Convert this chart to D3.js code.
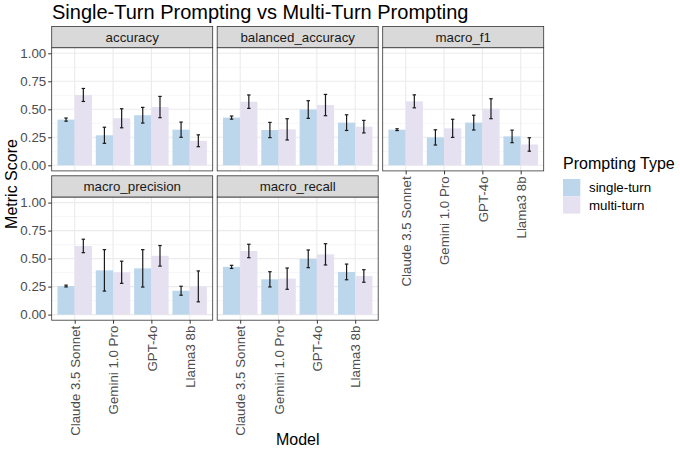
<!DOCTYPE html>
<html>
<head>
<meta charset="utf-8">
<script src="https://cdn.jsdelivr.net/npm/d3@7"></script>
<style>
  html, body { margin: 0; padding: 0; background: #fff; }
  svg text { font-family: "Liberation Sans", Arial, Helvetica, sans-serif; }
</style>
</head>
<body>
<svg id="chart" width="680" height="452"></svg>
<script>
// ---------- data ----------
const models = ["Claude 3.5 Sonnet", "Gemini 1.0 Pro", "GPT-4o", "Llama3 8b"];
const metrics = ["accuracy", "balanced_accuracy", "macro_f1", "macro_precision", "macro_recall"];
const promptTypes = ["single-turn", "multi-turn"];
const yTicks = [0, 0.25, 0.5, 0.75, 1.0];

// mean score and error half-width, per model
const accuracySingle      = [0.408, 0.268, 0.447, 0.318];
const accuracySingleErr   = [0.014, 0.072, 0.070, 0.068];
const accuracyMulti       = [0.628, 0.420, 0.520, 0.219];
const accuracyMultiErr    = [0.058, 0.085, 0.095, 0.053];

const balancedSingle      = [0.426, 0.315, 0.498, 0.381];
const balancedSingleErr   = [0.014, 0.068, 0.079, 0.070];
const balancedMulti       = [0.568, 0.321, 0.538, 0.345];
const balancedMultiErr    = [0.060, 0.095, 0.095, 0.056];

const f1Single            = [0.318, 0.249, 0.381, 0.258];
const f1SingleErr         = [0.008, 0.068, 0.066, 0.056];
const f1Multi             = [0.571, 0.330, 0.505, 0.186];
const f1MultiErr          = [0.058, 0.081, 0.089, 0.060];

const precisionSingle     = [0.255, 0.395, 0.413, 0.213];
const precisionSingleErr  = [0.008, 0.185, 0.167, 0.040];
const precisionMulti      = [0.613, 0.378, 0.525, 0.252];
const precisionMultiErr   = [0.060, 0.099, 0.092, 0.138];

const recallSingle        = [0.426, 0.315, 0.498, 0.381];
const recallSingleErr     = [0.014, 0.068, 0.079, 0.070];
const recallMulti         = [0.568, 0.321, 0.538, 0.345];
const recallMultiErr      = [0.060, 0.095, 0.095, 0.056];

const seriesByMetric = [
  [[accuracySingle, accuracySingleErr], [accuracyMulti, accuracyMultiErr]],
  [[balancedSingle, balancedSingleErr], [balancedMulti, balancedMultiErr]],
  [[f1Single, f1SingleErr], [f1Multi, f1MultiErr]],
  [[precisionSingle, precisionSingleErr], [precisionMulti, precisionMultiErr]],
  [[recallSingle, recallSingleErr], [recallMulti, recallMultiErr]]
];

// ---------- layout ----------
const colors = d3.scaleOrdinal().domain(promptTypes).range(["#bcd7ec", "#e6e1f1"]);
const colX = [51.7, 217.2, 382.7];
const panelW = 161;
const stripTop = [26.5, 175.8];
const stripH = 21.2;
const panelH = 123.2;
const ncol = 3;
const FS = 13.3;

const svg = d3.select("#chart");
svg.append("rect").attr("width", 680).attr("height", 452).attr("fill", "#fff");

const x = d3.scalePoint().domain(models).range([0, panelW]).padding(0.6);
const step = x.step();
const barW = step * 0.45;
const xSub = d3.scaleBand().domain(promptTypes).range([-barW, barW]);

metrics.forEach((m, i) => {
  const r = Math.floor(i / ncol), c = i % ncol;
  const x0 = colX[c];
  const sTop = stripTop[r];
  const pTop = sTop + stripH;
  const pBot = pTop + panelH;
  const y = d3.scaleLinear().domain([-0.05, 1.05]).range([pBot, pTop]);

  const g = svg.append("g").attr("transform", `translate(${x0},0)`);

  g.append("rect").attr("x", 0).attr("y", pTop).attr("width", panelW).attr("height", panelH).attr("fill", "#fff");

  const minor = [0.125, 0.375, 0.625, 0.875];
  g.selectAll(".minor").data(minor).join("line")
    .attr("x1", 0).attr("x2", panelW)
    .attr("y1", d => y(d)).attr("y2", d => y(d))
    .attr("stroke", "#f0f0f0").attr("stroke-width", 0.6);
  g.selectAll(".majory").data(yTicks).join("line")
    .attr("x1", 0).attr("x2", panelW)
    .attr("y1", d => y(d)).attr("y2", d => y(d))
    .attr("stroke", "#ebebeb").attr("stroke-width", 1.1);
  g.selectAll(".majorx").data(models).join("line")
    .attr("x1", d => x(d)).attr("x2", d => x(d))
    .attr("y1", pTop).attr("y2", pBot)
    .attr("stroke", "#ebebeb").attr("stroke-width", 1.1);

  const ser = seriesByMetric[i];
  promptTypes.forEach((pt, k) => {
    const means = ser[k][0];
    models.forEach((mod, j) => {
      const bx = x(mod) + xSub(pt);
      g.append("rect")
        .attr("x", bx).attr("width", xSub.bandwidth())
        .attr("y", y(means[j])).attr("height", y(0) - y(means[j]))
        .attr("fill", colors(pt));
    });
  });
  promptTypes.forEach((pt, k) => {
    const means = ser[k][0], errs = ser[k][1];
    models.forEach((mod, j) => {
      const cx = x(mod) + xSub(pt) + xSub.bandwidth() / 2;
      const lo = y(means[j] - errs[j]), hi = y(means[j] + errs[j]);
      const hw = step * 0.045;
      const eg = g.append("g").attr("stroke", "#1a1a1a").attr("stroke-width", 1.2).attr("fill", "none");
      eg.append("line").attr("x1", cx).attr("x2", cx).attr("y1", lo).attr("y2", hi);
      eg.append("line").attr("x1", cx - hw).attr("x2", cx + hw).attr("y1", lo).attr("y2", lo);
      eg.append("line").attr("x1", cx - hw).attr("x2", cx + hw).attr("y1", hi).attr("y2", hi);
    });
  });

  g.append("rect").attr("x", 0).attr("y", pTop).attr("width", panelW).attr("height", panelH)
    .attr("fill", "none").attr("stroke", "#333").attr("stroke-width", 0.8);

  g.append("rect").attr("x", 0).attr("y", sTop).attr("width", panelW).attr("height", stripH)
    .attr("fill", "#d9d9d9").attr("stroke", "#333").attr("stroke-width", 0.8);
  g.append("text").attr("x", panelW / 2).attr("y", sTop + stripH / 2).attr("dy", "0.35em")
    .attr("text-anchor", "middle").attr("font-size", FS).attr("fill", "#1a1a1a").text(m);

  if (c === 0) {
    const ya = g.append("g").call(d3.axisLeft(y).tickValues(yTicks).tickFormat(d3.format(".2f")).tickSize(3.5).tickPadding(2));
    ya.select(".domain").remove();
    ya.selectAll("line").attr("stroke", "#333");
    ya.selectAll("text").attr("font-size", FS).attr("fill", "#4d4d4d").attr("font-family", null);
  }
  const isBottom = (i + ncol >= metrics.length);
  if (isBottom) {
    const xa = g.append("g").attr("transform", `translate(0,${pBot})`)
      .call(d3.axisBottom(x).tickSize(3.5).tickPadding(2));
    xa.select(".domain").remove();
    xa.selectAll("line").attr("stroke", "#333");
    xa.selectAll("text")
      .attr("font-size", FS).attr("fill", "#4d4d4d").attr("font-family", null)
      .attr("text-anchor", "end")
      .attr("transform", "rotate(-90)")
      .attr("x", -5.5).attr("y", 0).attr("dy", "0.35em");
  }
});

svg.append("text").attr("x", 52).attr("y", 18.5).attr("font-size", 20).attr("fill", "#000")
  .text("Single-Turn Prompting vs Multi-Turn Prompting");
svg.append("text").attr("transform", "translate(17,184) rotate(-90)")
  .attr("text-anchor", "middle").attr("font-size", 16).attr("fill", "#000").text("Metric Score");
svg.append("text").attr("x", (colX[0] + colX[2] + panelW) / 2).attr("y", 445)
  .attr("text-anchor", "middle").attr("font-size", 16).attr("fill", "#000").text("Model");

const lg = svg.append("g").attr("transform", "translate(563,0)");
lg.append("text").attr("x", 0).attr("y", 169).attr("font-size", 16).attr("fill", "#000").text("Prompting Type");
promptTypes.forEach((pt, k) => {
  lg.append("rect").attr("x", 0).attr("y", 179 + k * 17.3).attr("width", 17.3).attr("height", 17.3).attr("fill", colors(pt));
  lg.append("text").attr("x", 26).attr("y", 179 + k * 17.3 + 8.65).attr("dy", "0.35em")
    .attr("font-size", FS).attr("fill", "#000").text(pt);
});
</script>
</body>
</html>
